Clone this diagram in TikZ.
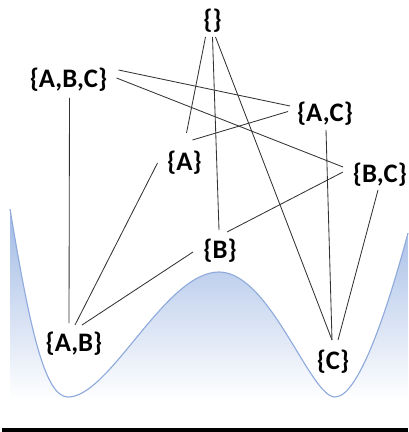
\documentclass[tikz,border=0pt]{standalone}
\usepackage{fontspec}
\setmainfont{Carlito}
\usetikzlibrary{calc}
\definecolor{wellcolor}{RGB}{143,170,220}
\definecolor{wellfill}{RGB}{160,185,228}
\colorlet{linkcolor}{black!80}
\tikzset{
    subset/.style={font=\bfseries\fontsize{19}{22}\selectfont, inner sep=0pt},
    link/.style={draw=linkcolor, line width=0.6pt},
    wellline/.style={draw=wellcolor, line width=0.8pt},
}

\begin{document}
\begin{tikzpicture}[x=0.025cm, y=-0.025cm]
    \useasboundingbox (0,0) rectangle (408,432);
    % --- double well ---
    \shade[top color=wellfill, bottom color=white]
        (10,209) .. controls (30,330) and (45,397) .. (68,397)
        .. controls (110,397) and (165,272) .. (219,272)
        .. controls (270,272) and (310,397) .. (335,397)
        .. controls (360,397) and (390,300) .. (408,233)
        -- (408,400) -- (10,400) -- cycle;
    \draw[wellline]
        (10,209) .. controls (30,330) and (45,397) .. (68,397)
        .. controls (110,397) and (165,272) .. (219,272)
        .. controls (270,272) and (310,397) .. (335,397)
        .. controls (360,397) and (390,300) .. (408,233);
    \draw[line width=2.8pt] (2,430) -- (408,430);
    % --- subsets ---
    \node[subset] (e)   at (212.5,21)  {\{\}};
    \node[subset] (abc) at (68.5,80)   {\{A,B,C\}};
    \node[subset] (ac)  at (325,113.5) {\{A,C\}};
    \node[subset] (a)   at (184.5,163) {\{A\}};
    \node[subset] (bc)  at (380,175)   {\{B,C\}};
    \node[subset] (b)   at (220,251)   {\{B\}};
    \node[subset] (ab)  at (74,344)    {\{A,B\}};
    \node[subset] (c)   at (333,362)   {\{C\}};
    % --- links ---
    \draw[link] ($(e)+(-7,16)$)   -- ($(a)+(2,-30)$);
    \draw[link] ($(e)+(0,16)$)    -- ($(b)+(-1,-21)$);
    \draw[link] ($(e)+(3,16)$)    -- ($(c)+(-1,-22)$);
    \draw[link] ($(abc)+(50,-10)$) -- ($(ac)+(-35,-7.5)$);
    \draw[link] ($(abc)+(48,-2)$) -- ($(bc)+(-37,-8)$);
    \draw[link] ($(abc)+(1,18)$)  -- ($(ab)+(-5,-21)$);
    \draw[link] ($(ac)+(-37,-2)$) -- ($(a)+(8,-23)$);
    \draw[link] ($(ac)+(1,16.5)$) -- ($(c)+(-1,-22)$);
    \draw[link] ($(a)+(-27,0)$)   -- ($(ab)+(1,-19)$);
    \draw[link] ($(bc)+(-37,-3)$) -- ($(b)+(7,-19)$);
    \draw[link] ($(bc)+(-2,15)$)  -- ($(c)+(5,-22)$);
    \draw[link] ($(b)+(-27,1)$)   -- ($(ab)+(8,-19)$);
\end{tikzpicture}
\end{document}
